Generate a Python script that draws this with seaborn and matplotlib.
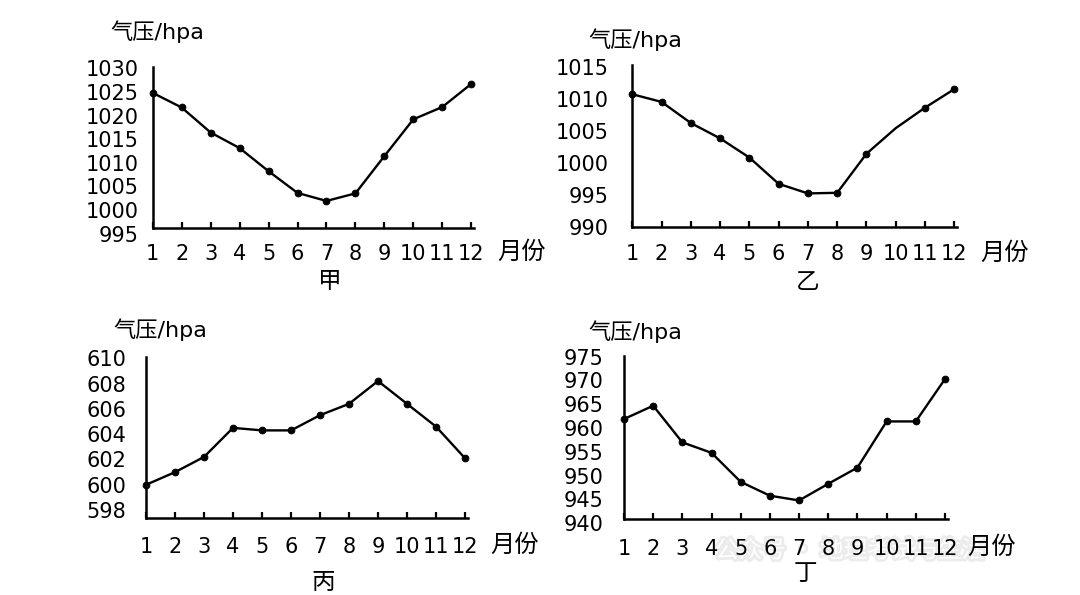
import matplotlib
matplotlib.use("Agg")
import matplotlib.pyplot as plt
import matplotlib.patheffects as pe
import seaborn as sns
import pandas as pd

# ---------------- data ----------------
months = list(range(1, 13))
month_labels = [str(m) for m in months]

jia_values = [1024.8, 1021.7, 1016.4, 1013.1, 1008.2, 1003.6, 1001.9, 1003.5, 1011.4, 1019.2, 1021.8, 1026.7]
yi_values = [1010.7, 1009.5, 1006.2, 1003.8, 1000.8, 996.7, 995.2, 995.3, 1001.4, 1005.4, 1008.6, 1011.5]
bing_values = [600.0, 601.0, 602.2, 604.5, 604.3, 604.3, 605.5, 606.4, 608.2, 606.4, 604.6, 602.1]
ding_values = [961.9, 964.7, 957.0, 954.8, 948.7, 945.8, 944.8, 948.3, 951.7, 961.4, 961.4, 970.3]

jia_ticks = [995, 1000, 1005, 1010, 1015, 1020, 1025, 1030]
yi_ticks = [990, 995, 1000, 1005, 1010, 1015]
bing_ticks = [598, 600, 602, 604, 606, 608, 610]
ding_ticks = [940, 945, 950, 955, 960, 965, 970, 975]

panel_names = ["甲", "乙", "丙", "丁"]
ylabel_text = "气压/hpa"
xlabel_text = "月份"
watermark_text = "公众号 · 地理考试与生活"

# ---------------- style ----------------
sns.set_theme(style="white")
plt.rcParams["font.family"] = ["DejaVu Sans", "Noto Sans CJK SC"]
CJK = ["Noto Sans CJK SC", "DejaVu Sans"]

W, H = 1080, 595
fig = plt.figure(figsize=(10.8, 5.95), dpi=100)
fig.patch.set_facecolor("white")

# layout specs (pixel geometry)
panels = [
    dict(name=panel_names[0], vals=jia_values, ticks=jia_ticks, x0=152.7, ppu=28.96,
         ylim=(995, 1030.3), ytop=66.9, ybot=233.5, base=996.1, ypad=10.4, xpad=11.4,
         ylab=(110, 31.7), xlab=(522, 251.7), title=(330, 281.7), skip=None),
    dict(name=panel_names[1], vals=yi_values, ticks=yi_ticks, x0=632.3, ppu=29.27,
         ylim=(990, 1015.3), ytop=64.8, ybot=226.7, base=990.0, ypad=17.3, xpad=12.4,
         ylab=(588, 40), xlab=(1005, 253), title=(808, 283), skip=9),
    dict(name=panel_names[2], vals=bing_values, ticks=bing_ticks, x0=146.0, ppu=29.0,
         ylim=(597.4, 610.1), ytop=357.0, ybot=517.7, base=597.4, ypad=14.0, xpad=14.0,
         ylab=(113, 330), xlab=(515, 545), title=(323, 582.5), skip=None),
    dict(name=panel_names[3], vals=ding_values, ticks=ding_ticks, x0=624.0, ppu=29.18,
         ylim=(940, 975.1), ytop=356.2, ybot=523.3, base=940.8, ypad=15.0, xpad=14.3,
         ylab=(588, 331.7), xlab=(992, 546.7), title=(805, 573), skip=None),
]

# faint watermark, drawn beneath the charts
fig.text(715 / W, 1 - 551 / H, watermark_text, family=CJK, fontsize=17,
         ha="left", va="center", color="white", zorder=-5,
         path_effects=[pe.withStroke(linewidth=4, foreground="#ececec")])

for p in panels:
    width = 11.1 * p["ppu"]
    rect = [p["x0"] / W, 1 - p["ybot"] / H, width / W, (p["ybot"] - p["ytop"]) / H]
    ax = fig.add_axes(rect)
    ax.set_facecolor("none")
    df = pd.DataFrame({"month": months, "pressure": p["vals"]})
    mk = [i for i in range(12) if i != p["skip"]]
    sns.lineplot(data=df, x="month", y="pressure", ax=ax, color="black",
                 linewidth=1.7, marker="o", markersize=4.8, markevery=mk,
                 markeredgecolor="black", markerfacecolor="black", clip_on=False)
    ax.set_xlim(1, 12.1)
    ax.set_ylim(*p["ylim"])
    ax.set_xticks(months)
    ax.set_xticklabels(month_labels)
    ax.set_yticks(p["ticks"])
    ax.set_yticklabels([str(t) for t in p["ticks"]])
    ax.set_xlabel("")
    ax.set_ylabel("")
    for s in ["top", "right"]:
        ax.spines[s].set_visible(False)
    for s in ["left", "bottom"]:
        ax.spines[s].set_color("black")
        ax.spines[s].set_linewidth(1.8)
    ax.spines["bottom"].set_position(("data", p["base"]))
    ax.spines["left"].set_bounds(p["base"], p["ylim"][1])
    ax.tick_params(axis="x", direction="in", length=4.2, width=1.6, color="black",
                   pad=p["xpad"], labelsize=15, labelcolor="black", bottom=True)
    ax.tick_params(axis="y", length=0, pad=p["ypad"], labelsize=15, labelcolor="black", left=True)
    ax.grid(False)

    fig.text(p["ylab"][0] / W, 1 - p["ylab"][1] / H, ylabel_text,
             fontsize=16, ha="left", va="center", color="black")
    fig.text(p["xlab"][0] / W, 1 - p["xlab"][1] / H, xlabel_text, family=CJK,
             fontsize=17.5, ha="center", va="center", color="black")
    fig.text(p["title"][0] / W, 1 - p["title"][1] / H, p["name"], family=CJK,
             fontsize=17, ha="center", va="center", color="black")

fig.savefig("out.png", dpi=100, facecolor="white")
